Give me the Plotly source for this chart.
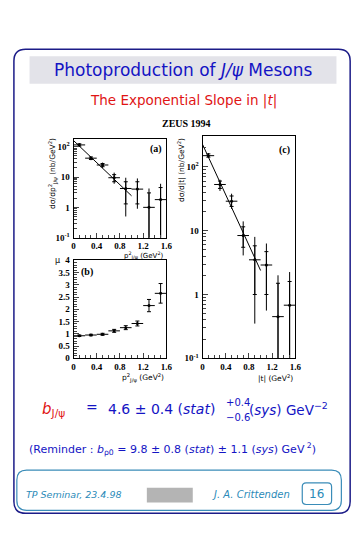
import plotly.graph_objects as go
import numpy as np

# page body has an 8px margin, so the figure is drawn 8px smaller and offset
OFF = 8
W, H = 363 - OFF, 535 - OFF

# ---------------- data ----------------
x_bins = [0.1, 0.3, 0.5, 0.7, 0.9, 1.1, 1.3, 1.5]
x_halfwidth = [0.1] * 8

# panel (a): dsigma/dp^2_T
a_y = [115, 42, 25, 9.5, 4.2, 4.0, 1.0, 1.8]
a_hi_tot = [130, 48, 30, 14, 9.5, 9.0, 4.2, 6.0]
a_lo_tot = [100, 36, 20, 6.0, 0.5, 0.9, 0.08, 0.08]
a_hi_stat = [125, 46, 28, 12, 7.0, 7.0, 3.0, 4.5]
a_lo_stat = [105, 38, 22, 7.0, 1.3, 1.3, 0.08, 0.08]
a_fit_norm, a_fit_slope = 160.0, 4.2

# panel (b): ratio
b_y = [0.92, 0.95, 0.98, 1.12, 1.25, 1.42, 2.15, 2.65]
b_err = [0.03, 0.03, 0.04, 0.06, 0.08, 0.10, 0.25, 0.40]

# panel (c): dsigma/d|t|
c_y = [150, 53, 29, 8.4, 3.5, 2.9, 0.45, 0.68]
c_hi_tot = [165, 63, 38, 14, 8.0, 6.3, 2.0, 2.25]
c_lo_tot = [138, 42, 22, 4.1, 0.35, 0.56, 0.08, 0.08]
c_hi_stat = [160, 60, 35, 11.5, 5.8, 4.7, 1.5, 1.6]
c_lo_stat = [142, 46, 24, 5.5, 1.0, 1.0, 0.08, 0.08]
c_fit_norm, c_fit_slope = 225.0, 4.55
fit_x = [0.0, 1.0]

x_ticks = [0, 0.4, 0.8, 1.2, 1.6]
x_ticktext = ["0", "0.4", "0.8", "1.2", "1.6"]
log_ticks = [0.1, 1, 10, 100]
log_ticktext = ["10<sup>-1</sup>", "1", "10", "10<sup>2</sup>"]
b_ticks = [0, 0.5, 1, 1.5, 2, 2.5, 3, 3.5, 4]
b_ticktext = ["0", "0.5", "1", "1.5", "2", "2.5", "3", "3.5", "4"]

# ---------------- helpers ----------------
def fx(px):
    return (px - OFF) / W

def fy(py):
    return 1 - (py - OFF) / H

def rounded(x0, y0, x1, y1, r):
    rx, ry = r / W, r / H
    X0, X1 = fx(x0), fx(x1)
    Y0, Y1 = fy(y0), fy(y1)
    return (f"M {X0+rx},{Y0} L {X1-rx},{Y0} Q {X1},{Y0} {X1},{Y0-ry} "
            f"L {X1},{Y1+ry} Q {X1},{Y1} {X1-rx},{Y1} L {X0+rx},{Y1} "
            f"Q {X0},{Y1} {X0},{Y1+ry} L {X0},{Y0-ry} Q {X0},{Y0} {X0+rx},{Y0} Z")

def minus(a, b):
    return [p - q for p, q in zip(a, b)]

fig = go.Figure()

def add_log_panel(xa, ya, y, hi_t, lo_t, hi_s, lo_s, norm, slope):
    fig.add_trace(go.Scatter(
        x=x_bins, y=y, mode="markers", xaxis=xa, yaxis=ya,
        marker=dict(color="black", size=3),
        error_x=dict(type="data", array=x_halfwidth, color="black", thickness=1, width=0),
        error_y=dict(type="data", array=minus(hi_t, y), arrayminus=minus(y, lo_t),
                     color="black", thickness=1, width=0),
        showlegend=False))
    fig.add_trace(go.Scatter(
        x=x_bins, y=y, mode="markers", xaxis=xa, yaxis=ya,
        marker=dict(color="black", size=1, opacity=0),
        error_y=dict(type="data", array=minus(hi_s, y), arrayminus=minus(y, lo_s),
                     color="black", thickness=1, width=2),
        showlegend=False))
    fx_arr = np.array(fit_x)
    fig.add_trace(go.Scatter(
        x=fx_arr, y=norm * np.exp(-slope * fx_arr), mode="lines",
        xaxis=xa, yaxis=ya, line=dict(color="black", width=1), showlegend=False))

add_log_panel("x", "y", a_y, a_hi_tot, a_lo_tot, a_hi_stat, a_lo_stat, a_fit_norm, a_fit_slope)
add_log_panel("x3", "y3", c_y, c_hi_tot, c_lo_tot, c_hi_stat, c_lo_stat, c_fit_norm, c_fit_slope)

fig.add_trace(go.Scatter(
    x=x_bins, y=b_y, mode="markers", xaxis="x2", yaxis="y2",
    marker=dict(color="black", size=3),
    error_x=dict(type="data", array=x_halfwidth, color="black", thickness=1, width=0),
    error_y=dict(type="data", array=b_err, color="black", thickness=1, width=2),
    showlegend=False))

tickfont = dict(family="Liberation Serif", size=9, color="black", weight="bold")
log_minor = [m * 10.0 ** k for k in (-1, 0, 1, 2) for m in range(2, 10)]

def xaxis_cfg(domain, anchor):
    return dict(domain=domain, anchor=anchor, range=[0, 1.6], tickvals=x_ticks,
                ticktext=x_ticktext, ticks="inside", ticklen=5, showline=True,
                linecolor="black", linewidth=1, mirror=True, showgrid=False,
                zeroline=False, tickfont=tickfont, ticklabelstandoff=0,
                minor=dict(ticks="inside", ticklen=3, dtick=0.1, tick0=0, showgrid=False))

def logy_cfg(domain, anchor, rng):
    return dict(domain=domain, anchor=anchor, type="log", range=rng,
                tickvals=log_ticks, ticktext=log_ticktext, ticks="inside", ticklen=5,
                showline=True, linecolor="black", linewidth=1, mirror=True,
                showgrid=False, zeroline=False, tickfont=tickfont, ticklabelstandoff=1,
                minor=dict(tickmode="array", tickvals=log_minor, ticks="inside",
                           ticklen=3, showgrid=False))

fig.update_layout(
    width=W, height=H, margin=dict(l=0, r=0, t=0, b=0),
    paper_bgcolor="white", plot_bgcolor="white",
    xaxis=xaxis_cfg([fx(73), fx(168)], "y"),
    yaxis=logy_cfg([fy(237), fy(136)], "x", [-1, 2.27]),
    xaxis2=xaxis_cfg([fx(73), fx(168)], "y2"),
    yaxis2=dict(domain=[fy(360), fy(260)], anchor="x2", range=[0, 4],
                tickvals=b_ticks, ticktext=b_ticktext, ticks="inside", ticklen=5,
                showline=True, linecolor="black", linewidth=1, mirror=True,
                showgrid=False, zeroline=False, tickfont=tickfont, ticklabelstandoff=1,
                minor=dict(ticks="inside", ticklen=3, dtick=0.1, showgrid=False)),
    xaxis3=xaxis_cfg([fx(205), fx(300)], "y3"),
    yaxis3=logy_cfg([fy(360), fy(133)], "x3", [-1, 2.49]),
)

shapes = []
shapes.append(dict(type="path", path=rounded(12, 45, 356, 518, 12), xref="paper", yref="paper",
                   line=dict(color="#1c1c88", width=1.5)))
shapes.append(dict(type="rect", x0=fx(28), x1=fx(342), y0=fy(80), y1=fy(52), xref="paper",
                   yref="paper", fillcolor="#e3e3e9", line=dict(width=0), layer="below"))
shapes.append(dict(type="path", path=rounded(15, 474, 347, 515, 10), xref="paper", yref="paper",
                   line=dict(color="#3a8cb8", width=1.2)))
shapes.append(dict(type="path", path=rounded(307, 487, 337, 509, 4), xref="paper", yref="paper",
                   line=dict(color="#3a8cb8", width=1.2)))
shapes.append(dict(type="rect", x0=fx(148), x1=fx(195), y0=fy(507), y1=fy(492), xref="paper",
                   yref="paper", fillcolor="#777777", opacity=0.55, line=dict(width=0)))
fig.update_layout(shapes=shapes)

BLUE = "#1414c4"
RED = "#e01414"
TEAL = "#2a8ab8"
ann = []

def A(px, py, text, size, color="black", family="DejaVu Sans", xanchor="center",
      yanchor="middle", angle=0, weight="normal"):
    ann.append(dict(x=fx(px), y=fy(py), xref="paper", yref="paper", text=text,
                    showarrow=False, xanchor=xanchor, yanchor=yanchor, textangle=angle,
                    font=dict(size=size, color=color, family=family, weight=weight)))

A(186, 66, "Photoproduction of <i>J/ψ</i> Mesons", 17, BLUE)
A(185, 97, "The Exponential Slope in |<i>t</i>|", 13.5, RED)
A(189, 121, "ZEUS 1994", 10, "black", "Liberation Serif", weight="bold")

A(157, 147, "(a)", 10, "black", "Liberation Serif", weight="bold")
A(87, 272, "(b)", 10, "black", "Liberation Serif", weight="bold")
A(289, 148, "(c)", 10, "black", "Liberation Serif", weight="bold")

A(52, 172, "dσ/dp<sup>2</sup><sub>J/ψ</sub> (nb/GeV<sup>2</sup>)", 7.5, angle=-90)
A(183, 168, "dσ/d|t| (nb/GeV<sup>2</sup>)", 7.5, angle=-90)
A(168, 255, "p<sup>2</sup><sub>J/ψ</sub> (GeV<sup>2</sup>)", 7, xanchor="right")
A(168, 380, "p<sup>2</sup><sub>J/ψ</sub> (GeV<sup>2</sup>)", 7.5, xanchor="right")
A(300, 380, "|t| (GeV<sup>2</sup>)", 7.5, xanchor="right")
A(57, 260, "μ", 8)

A(39, 412, "<i>b</i><sub>J/ψ</sub>", 15, RED, xanchor="left")
A(84, 410, "=", 14, BLUE, xanchor="left")
A(106, 412, "4.6 ± 0.4 (<i>stat</i>)", 14, BLUE, xanchor="left")
A(227, 405, "+0.4", 10, BLUE, xanchor="left")
A(227, 420, "−0.6", 10, BLUE, xanchor="left")
A(250, 412, "(<i>sys</i>) GeV<sup>−2</sup>", 13.5, BLUE, xanchor="left")

A(174, 452, "(Reminder : <i>b</i><sub>ρ0</sub> = 9.8 ± 0.8 (<i>stat</i>) ± 1.1 (<i>sys</i>) GeV<sup> 2</sup>)",
  11, BLUE)

A(22, 499, "<i>TP Seminar, 23.4.98</i>", 9.5, TEAL, xanchor="left")
A(213, 499, "<i>J. A. Crittenden</i>", 10, TEAL, xanchor="left")
A(322, 498, "16", 12, TEAL)

fig.update_layout(annotations=ann)
fig.write_html("out.html")
